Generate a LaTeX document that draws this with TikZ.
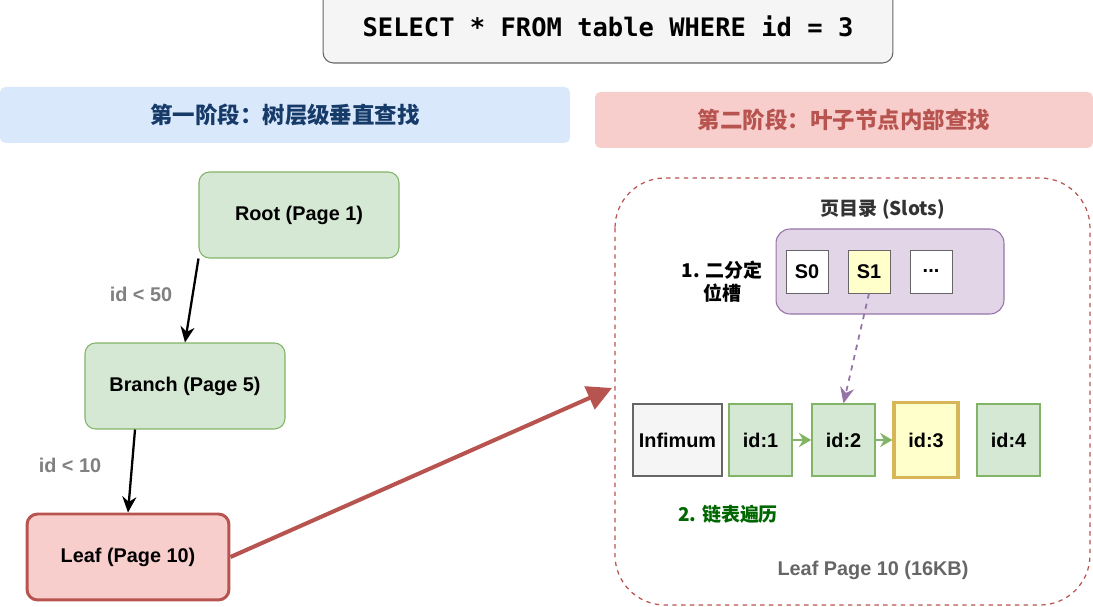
\documentclass[tikz,border=0pt]{standalone}
\usepackage{fontspec}
\setmainfont{Liberation Sans}
\setmonofont{DejaVu Sans Mono}
\newfontfamily\cjk{Noto Sans CJK SC}
\usetikzlibrary{arrows.meta, positioning}

\definecolor{grayfill}{HTML}{F5F5F5}
\definecolor{graydraw}{HTML}{666666}
\definecolor{bluefill}{HTML}{DAE8FC}
\definecolor{bluetext}{HTML}{163B69}
\definecolor{redfill}{HTML}{F8CECC}
\definecolor{reddraw}{HTML}{B85450}
\definecolor{greenfill}{HTML}{D5E8D4}
\definecolor{greendraw}{HTML}{82B366}
\definecolor{purplefill}{HTML}{E1D5E7}
\definecolor{purpledraw}{HTML}{9673A6}
\definecolor{yellowfill}{HTML}{FFFFCC}
\definecolor{yellowdraw}{HTML}{D6B656}
\definecolor{labelgray}{HTML}{808080}
\definecolor{stepgreen}{HTML}{006600}

\begin{document}
\begin{tikzpicture}[
  x=0.02cm, y=-0.02cm,
  every node/.style={font=\fontsize{11.3}{13.5}\selectfont\bfseries},
  page/.style={rectangle, rounded corners=6pt, draw=greendraw, fill=greenfill, line width=0.6pt,
    minimum width=4cm, minimum height=1.72cm},
  leafpage/.style={page, draw=reddraw, fill=redfill, line width=1.7pt, minimum width=4.04cm},
  band/.style={rectangle, rounded corners=3pt, minimum height=1.12cm,
    font=\cjk\fontsize{12.8}{15}\selectfont\bfseries},
  slot/.style={rectangle, draw=graydraw, fill=white, line width=0.5pt, minimum width=0.84cm, minimum height=0.86cm},
  rec/.style={rectangle, draw=greendraw, fill=greenfill, line width=0.8pt, minimum width=1.26cm, minimum height=1.44cm},
  tree/.style={-{Stealth[length=9pt, width=8pt]}, line width=1.3pt},
  walk/.style={-{Stealth[length=7pt, width=8pt]}, line width=1.2pt, draw=greendraw},
  cond/.style={text=labelgray}
]
\useasboundingbox (0,0) rectangle (1093,607);

% Query
\node[rectangle, rounded corners=6pt, draw=graydraw, fill=grayfill, line width=0.6pt,
  minimum width=11.4cm, minimum height=1.48cm, font=\ttfamily\fontsize{14.5}{17}\selectfont\bfseries]
  (query) at (608,26) {SELECT * FROM table WHERE id = 3};

% Stages
\node[band, fill=bluefill, text=bluetext, minimum width=11.4cm] (stage1) at (285,115) {第一阶段：树层级垂直查找};
\node[band, fill=redfill, text=reddraw, minimum width=9.96cm] (stage2) at (844,120) {第二阶段：叶子节点内部查找};

% B+ tree
\node[page] (root) at (299,215) {Root (Page 1)};
\node[page] (branch) at (185,386) {Branch (Page 5)};
\node[leafpage] (leaf) at (128,557) {Leaf (Page 10)};

\draw[tree] (root.south west) -- (branch.north);
\draw[tree] ([xshift=-1cm]branch.south) -- (leaf.north);
\node[cond] (cond1) at (141,294) {id < 50};
\node[cond] (cond2) at (70,465) {id < 10};

% Leaf page detail
\draw[reddraw, dash pattern=on 2.5pt off 2.5pt, line width=0.7pt, rounded corners=1cm] (615,178) rectangle (1090,605);
\coordinate (zoomin) at (612,388);
\draw[-{Triangle[length=14pt, width=14pt]}, draw=reddraw, line width=2.3pt] (leaf.east) -- (zoomin);

\node[font=\cjk\fontsize{10.8}{13}\selectfont\bfseries, text=black!80] (dirtitle) at (883,209) {页目录 (Slots)};
\node[rectangle, rounded corners=8pt, draw=purpledraw, fill=purplefill, line width=0.6pt,
  minimum width=4.56cm, minimum height=1.7cm] (slots) at (890,271.5) {};
\node[slot] (s0) at (807,271.5) {S0};
\node[slot, fill=yellowfill] (s1) at (869,271.5) {S1};
\node[slot] (sdots) at (931,271.5) {...};
\node[align=center, font=\cjk\fontsize{10.8}{13}\selectfont\bfseries] (bisect) at (722,282) {1. 二分定\\位槽};

\node[rec, draw=graydraw, fill=grayfill, minimum width=1.66cm] (infimum) at (677.5,440) {Infimum};
\node[rec] (id1) at (760.5,440) {id:1};
\node[rec] (id2) at (843.5,440) {id:2};
\node[rec, draw=yellowdraw, fill=yellowfill, line width=1.8pt, minimum width=1.28cm, minimum height=1.5cm] (id3) at (926,440) {id:3};
\node[rec] (id4) at (1008.5,440) {id:4};

\draw[-{Stealth[length=9pt, width=8pt]}, draw=purpledraw, dashed, line width=1pt] (s1.south) -- (id2.north);
\draw[walk] (id1) -- (id2);
\draw[walk] (id2) -- (id3);

\node[font=\cjk\fontsize{10.8}{13}\selectfont\bfseries, text=stepgreen] (traverse) at (728,514) {2. 链表遍历};
\node[text=graydraw] (pagename) at (873,570) {Leaf Page 10 (16KB)};

\end{tikzpicture}
\end{document}
